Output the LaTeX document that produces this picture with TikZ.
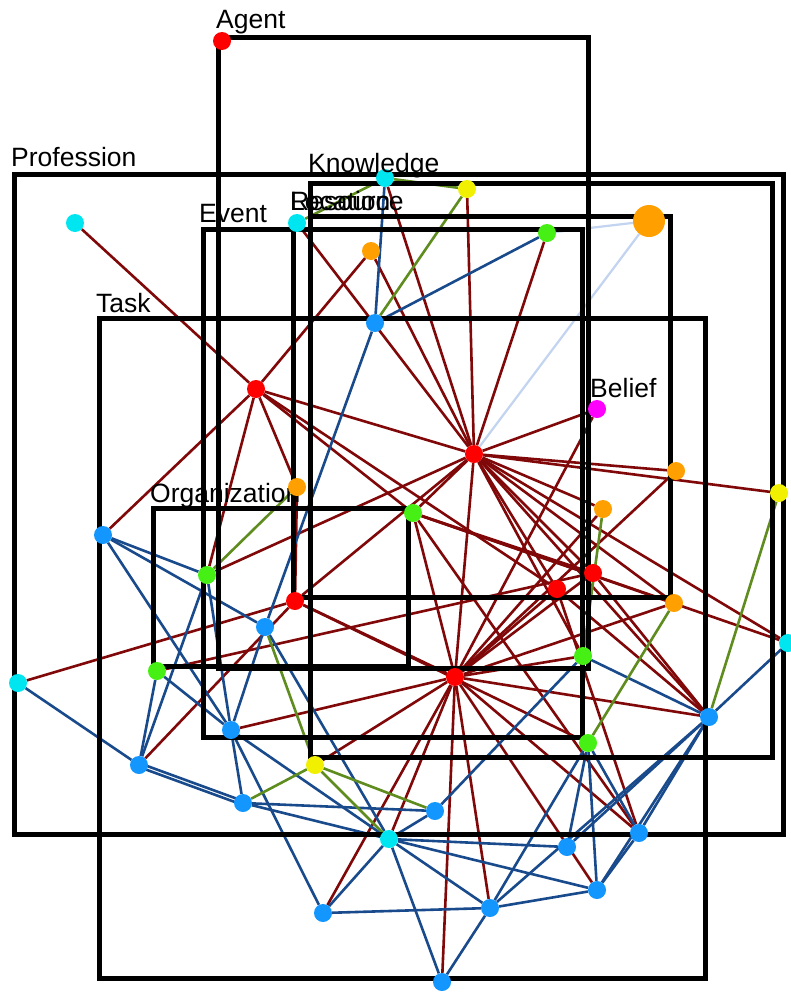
\documentclass[tikz,border=0pt]{standalone}
\usepackage{fontspec}
\setmainfont{Liberation Sans}
\pgfdeclarelayer{edges}
\pgfdeclarelayer{boxes}
\pgfsetlayers{edges,boxes,main}
\definecolor{mar}{RGB}{128,8,8}
\definecolor{blu}{RGB}{25,75,140}
\definecolor{oli}{RGB}{95,140,30}
\definecolor{lbl}{RGB}{195,212,240}
\definecolor{nred}{RGB}{255,0,0}
\definecolor{ncyan}{RGB}{0,230,240}
\definecolor{nblue}{RGB}{20,150,255}
\definecolor{ngreen}{RGB}{70,240,20}
\definecolor{norange}{RGB}{255,160,0}
\definecolor{nyellow}{RGB}{240,240,0}
\definecolor{nmag}{RGB}{255,0,255}
\begin{document}
\begin{tikzpicture}[x=1pt,y=-1pt,
  nd/.style={circle,inner sep=0pt,minimum size=18pt,draw=none},
  me/.style={draw=mar,line width=2.6pt},
  be/.style={draw=blu,line width=2.6pt},
  oe/.style={draw=oli,line width=2.6pt},
  le/.style={draw=lbl,line width=2.2pt},
  bx/.style={draw=black,line width=5pt},
  lab/.style={anchor=base west,inner sep=0pt,font=\fontsize{26.5}{30}\selectfont}]
\begin{pgfonlayer}{edges}
\fill[white] (0,0) rectangle (791,993);
\end{pgfonlayer}
\useasboundingbox (0,0) rectangle (791,993);
% nodes
\node[nd,fill=nred] (agent) at (222,41) {};
\node[nd,fill=ncyan] (c74) at (75,223) {};
\node[nd,fill=ncyan] (cyK) at (385,178) {};
\node[nd,fill=nyellow] (y1) at (467,189) {};
\node[nd,fill=ncyan] (cR) at (297,223) {};
\node[nd,fill=norange] (o1) at (371,251) {};
\node[nd,fill=ngreen] (g1) at (547,233) {};
\node[nd,fill=norange,minimum size=32pt] (oBig) at (649,221) {};
\node[nd,fill=nblue] (b375) at (375,323) {};
\node[nd,fill=nred] (r1) at (256,389) {};
\node[nd,fill=nmag] (bel) at (597,409) {};
\node[nd,fill=nred] (h1) at (474,454) {};
\node[nd,fill=norange] (o2) at (676,471) {};
\node[nd,fill=nyellow] (y2) at (779,493) {};
\node[nd,fill=ngreen] (g2) at (413,513) {};
\node[nd,fill=norange] (o4) at (603,509) {};
\node[nd,fill=nblue] (b102) at (103,535) {};
\node[nd,fill=ngreen] (g3) at (207,575) {};
\node[nd,fill=nred] (r2) at (593,573) {};
\node[nd,fill=nred] (r4) at (557,589) {};
\node[nd,fill=nred] (r3) at (295,601) {};
\node[nd,fill=norange] (o5) at (674,603) {};
\node[nd,fill=nblue] (b265) at (265,627) {};
\node[nd,fill=ncyan] (c787) at (788,643) {};
\node[nd,fill=ngreen] (g155) at (157,671) {};
\node[nd,fill=ncyan] (c18) at (18,683) {};
\node[nd,fill=ngreen] (g583) at (583,656) {};
\node[nd,fill=nred] (h2) at (455,677) {};
\node[nd,fill=nblue] (b709) at (709,717) {};
\node[nd,fill=nblue] (b230) at (231,730) {};
\node[nd,fill=ngreen] (g588) at (588,743) {};
\node[nd,fill=nblue] (b139) at (139,765) {};
\node[nd,fill=nyellow] (y315) at (315,765) {};
\node[nd,fill=nblue] (b243) at (243,803) {};
\node[nd,fill=nblue] (b435) at (435,811) {};
\node[nd,fill=ncyan] (c389) at (389,839) {};
\node[nd,fill=nblue] (b639) at (639,833) {};
\node[nd,fill=nblue] (b567) at (567,847) {};
\node[nd,fill=nblue] (b323) at (323,913) {};
\node[nd,fill=nblue] (b489) at (490,908) {};
\node[nd,fill=nblue] (b597) at (597,890) {};
\node[nd,fill=nblue] (b441) at (442,982) {};
% labels
\node[lab] (lAgent) at (216,28) {Agent};
\node[lab] (lProf) at (11,166) {Profession};
\node[lab] (lKnow) at (308,172) {Knowledge};
\node[lab] (lRes) at (290,210) {Resource};
\node[lab] (lLoc) at (290,210) {Location};
\node[lab] (lEvent) at (199,222) {Event};
\node[lab] (lTask) at (96,312) {Task};
\node[lab] (lOrg) at (150,502) {Organization};
\node[lab] (lBel) at (590,397) {Belief};
\node[nd,fill=norange] (o3) at (297,487) {};
% boxes
\begin{pgfonlayer}{boxes}
\draw[bx] (218,37) rectangle (588,668);
\draw[bx] (14,174) rectangle (783,834);
\draw[bx] (310,183) rectangle (772,757);
\draw[bx] (310,216) rectangle (670,597);
\draw[bx] (293,229) rectangle (582,597);
\draw[bx] (203,229) rectangle (582,737);
\draw[bx] (99,318) rectangle (705,978);
\draw[bx] (153,508) rectangle (408,666);
\end{pgfonlayer}
% edges
\begin{pgfonlayer}{edges}
\foreach \t in {cyK,y1,g1,o1,cR,r1,bel,o2,y2,o4,g2,g3,r3,r4,r2,o5,c787,h2,b709,g583}
  \draw[me] (h1) -- (\t);
\foreach \t in {g2,r3,b230,y315,c389,b323,b441,b489,b597,b639,b709,g583,o5,r4,r2,o4,o2,bel}
  \draw[me] (h2) -- (\t);
\foreach \t in {c74,o1,b102,o3,g3,g2,r4}
  \draw[me] (r1) -- (\t);
\foreach \t in {o3,c18,b139,g588}
  \draw[me] (r3) -- (\t);
\foreach \t in {r2,o5,c787,b639}
  \draw[me] (g2) -- (\t);
\draw[me] (r4) -- (b709);
\draw[me] (r4) -- (b639);
\draw[me] (r2) -- (b709);
\draw[me] (g155) -- (r2);
\draw[le] (oBig) -- (g1);
\draw[le] (oBig) -- (h1);
\draw[be] (cyK) -- (b375);
\draw[be] (g1) -- (b375);
\draw[be] (b375) -- (b265);
\draw[be] (b102) -- (g3);
\draw[be] (b102) -- (b265);
\draw[be] (b102) -- (b230);
\draw[be] (g3) -- (b139);
\draw[be] (g3) -- (b230);
\draw[be] (b265) -- (b230);
\draw[be] (b265) -- (c389);
\draw[be] (c18) -- (b139);
\draw[be] (g155) -- (b139);
\draw[be] (g155) -- (b230);
\draw[be] ([yshift=-2pt]b139.center) -- ([yshift=-2pt]b243.center);
\draw[be] ([yshift=2pt]b139.center) -- ([yshift=2pt]b243.center);
\draw[be] (b230) -- (b243);
\draw[be] (b230) -- (c389);
\draw[be] (b230) -- (b323);
\draw[be] (b243) -- (b435);
\draw[be] (b243) -- (c389);
\draw[be] (b323) -- (c389);
\draw[be] (b323) -- (b489);
\foreach \t in {b435,b489,b567,b597,b441}
  \draw[be] (c389) -- (\t);
\draw[be] (b435) -- (g583);
\draw[be] (g583) -- (b709);
\foreach \t in {b489,b567,b597,b639}
  \draw[be] (g588) -- (\t);
\foreach \t in {c787,b639,b597,b489,b567}
  \draw[be] (b709) -- (\t);
\draw[be] (b489) -- (b441);
\draw[be] (b489) -- (b597);
\draw[be] (b597) -- (b639);
\draw[oe] (cyK) -- (y1);
\draw[oe] (cyK) -- (cR);
\draw[oe] (y1) -- (b375);
\draw[oe] (g3) -- (o3);
\draw[oe] (b265) -- (y315);
\draw[oe] (y315) -- (b243);
\draw[oe] (y315) -- (c389);
\draw[oe] (y315) -- (b435);
\draw[oe] (o4) -- (g583);
\draw[oe] (o5) -- (g588);
\draw[oe] (y2) -- (b709);
\end{pgfonlayer}
\end{tikzpicture}
\end{document}
